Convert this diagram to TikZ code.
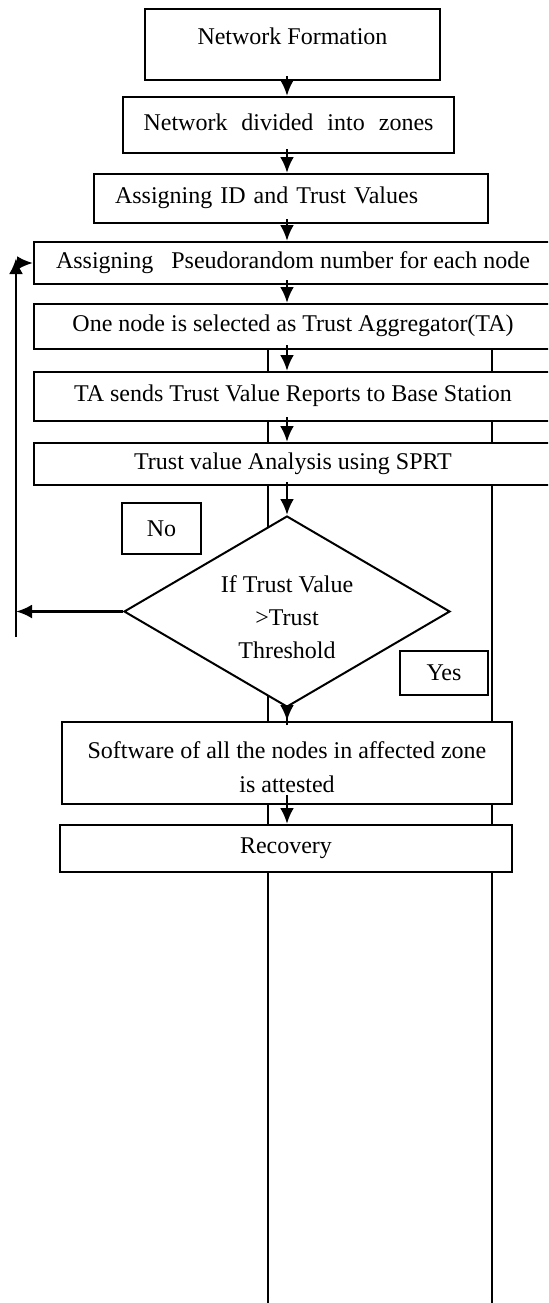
\documentclass[tikz,border=0pt]{standalone}
\usepackage{fontspec}
\setmainfont{Liberation Serif}
\usetikzlibrary{arrows.meta,shapes.geometric}
\tikzset{stepbox/.style={draw, line width=1pt, fill=white, inner sep=0pt, text height=8pt, text depth=3pt, font=\fontsize{12}{14.5}\selectfont}}
\tikzset{decide/.style={diamond, draw, line width=1pt, fill=white, inner sep=0pt, aspect=1.7, align=center, font=\fontsize{12}{14.5}\selectfont}}
\tikzset{tagbox/.style={draw, line width=1pt, fill=white, inner sep=0pt, font=\fontsize{12}{14.5}\selectfont}}
\tikzset{arr/.style={draw, line width=1.4pt, -{Latex[length=8pt,width=7pt]}, shorten <=-2.5pt}}

\begin{document}
\begin{tikzpicture}[x=0.5pt, y=-0.5pt]
                \useasboundingbox (0,0) rectangle (548,1303);
                \clip (0,0) rectangle (548,1303);
                
                % tall frame behind the chart
                \draw[line width=1pt, fill=white] (268,335) rectangle (492,1320);
                
                \coordinate (spine) at (287,0);
                \node[stepbox, minimum width=147.5pt, minimum height=35.5pt, text height=8pt, text depth=8pt] (form) at (292.5,44.5) {Network Formation};
                \node[stepbox, minimum width=165.5pt, minimum height=28pt] (zones) at (288.5,125) {Network\hspace{7pt}divided\hspace{7pt}into\hspace{7pt}zones};
                \node[stepbox, text width=176pt, align=left, inner xsep=10.5pt, minimum height=24.5pt] (ids) at (291,198.5) {Assigning ID and Trust Values};
                \node[stepbox, minimum width=259pt, minimum height=21pt] (pseudo) at (293,263) {Assigning\ \ \ Pseudorandom number for each node};
                \node[stepbox, minimum width=259pt, minimum height=22.5pt] (aggr) at (293,326.5) {One node is selected as Trust Aggregator(TA)};
                \node[stepbox, minimum width=259pt, minimum height=24.5pt] (report) at (293,396.5) {TA sends Trust Value Reports to Base Station};
                \node[stepbox, minimum width=259pt, minimum height=21pt] (sprt) at (293,464) {Trust value Analysis using SPRT};
                \node[decide, minimum width=163pt, minimum height=95.5pt] (check) at (287,611.5) {\rule{0pt}{14pt}If Trust Value\\[2pt]>Trust\\[2pt]Threshold};
                \node[tagbox, minimum width=39.5pt, minimum height=25.5pt] (no) at (161.5,528.5) {No};
                \node[tagbox, minimum width=44pt, minimum height=22pt] (yes) at (444,673) {Yes};
                \node[stepbox, minimum width=225pt, minimum height=41pt, align=center, text height=, text depth=] (attest) at (287,763) {\rule{0pt}{13pt}Software of all the nodes in affected zone\\[2.5pt]is attested};
                \node[stepbox, minimum width=226pt, minimum height=23.5pt] (recov) at (286,848.5) {Recovery};
                
                \draw[arr] (form.south -| spine) -- (zones.north -| spine);
                \draw[arr] (zones.south -| spine) -- (ids.north -| spine);
                \draw[arr] (ids.south -| spine) -- (pseudo.north -| spine);
                \draw[arr] (pseudo.south -| spine) -- (aggr.north -| spine);
                \draw[arr] (aggr.south -| spine) -- (report.north -| spine);
                \draw[arr] (report.south -| spine) -- (sprt.north -| spine);
                \draw[arr, shorten <=-2pt] (sprt.south -| spine) -- (check.north);
                \draw[arr, shorten <=-8.5pt] (check.south) -- (attest.north -| spine);
                \draw[arr, shorten <=-5pt] (attest.south -| spine) -- (recov.north -| spine);
                
                % back to the pseudorandom step
                \coordinate (loopbot) at (16,637);
                \coordinate (looptop) at (16,258);
                \draw[arr, shorten <=0pt] (check.west) -- (check.west -| loopbot);
                \draw[arr, shorten <=0pt] (loopbot) -- (looptop);
                \draw[arr, shorten <=0pt] (looptop |- pseudo.west) -- (pseudo.west);
            \end{tikzpicture}
\end{document}
